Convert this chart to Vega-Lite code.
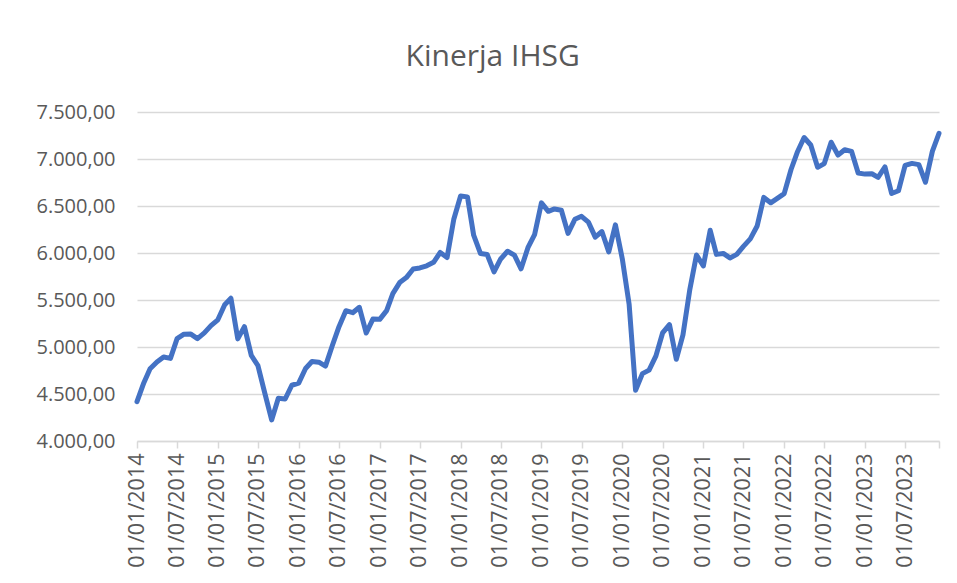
{
  "$schema": "https://vega.github.io/schema/vega-lite/v6.json",
  "autosize": {"type": "none"},
  "padding": {"left": 137, "top": 112, "right": 18, "bottom": 142},
  "width": 802,
  "height": 329,
  "background": "white",
  "config": {
    "locale": {"number": {"decimal": ",", "thousands": ".", "grouping": [3], "currency": ["Rp", ""]}},
    "view": {"stroke": null},
    "font": "Open Sans"
  },
  "title": {
    "text": "Kinerja IHSG",
    "anchor": "middle",
    "frame": "bounds",
    "fontSize": 30,
    "font": "Open Sans",
    "fontWeight": "normal",
    "color": "#595959",
    "offset": 30
  },
  "data": {
    "values": [
      {"date": "2014-01-01", "ihsg": 4418.76}, {"date": "2014-02-01", "ihsg": 4620.22}, {"date": "2014-03-01", "ihsg": 4768.28}, {"date": "2014-04-01", "ihsg": 4840.15}, {"date": "2014-05-01", "ihsg": 4893.91}, {"date": "2014-06-01", "ihsg": 4878.58}, {"date": "2014-07-01", "ihsg": 5088.80}, {"date": "2014-08-01", "ihsg": 5136.86}, {"date": "2014-09-01", "ihsg": 5137.58}, {"date": "2014-10-01", "ihsg": 5089.55}, {"date": "2014-11-01", "ihsg": 5149.89}, {"date": "2014-12-01", "ihsg": 5226.95},
      {"date": "2015-01-01", "ihsg": 5289.40}, {"date": "2015-02-01", "ihsg": 5450.29}, {"date": "2015-03-01", "ihsg": 5518.67}, {"date": "2015-04-01", "ihsg": 5086.42}, {"date": "2015-05-01", "ihsg": 5216.38}, {"date": "2015-06-01", "ihsg": 4910.66}, {"date": "2015-07-01", "ihsg": 4802.53}, {"date": "2015-08-01", "ihsg": 4509.61}, {"date": "2015-09-01", "ihsg": 4223.91}, {"date": "2015-10-01", "ihsg": 4455.18}, {"date": "2015-11-01", "ihsg": 4446.46}, {"date": "2015-12-01", "ihsg": 4593.01},
      {"date": "2016-01-01", "ihsg": 4615.16}, {"date": "2016-02-01", "ihsg": 4770.96}, {"date": "2016-03-01", "ihsg": 4845.37}, {"date": "2016-04-01", "ihsg": 4838.58}, {"date": "2016-05-01", "ihsg": 4796.87}, {"date": "2016-06-01", "ihsg": 5016.65}, {"date": "2016-07-01", "ihsg": 5215.99}, {"date": "2016-08-01", "ihsg": 5386.08}, {"date": "2016-09-01", "ihsg": 5364.80}, {"date": "2016-10-01", "ihsg": 5422.54}, {"date": "2016-11-01", "ihsg": 5148.91}, {"date": "2016-12-01", "ihsg": 5296.71},
      {"date": "2017-01-01", "ihsg": 5294.10}, {"date": "2017-02-01", "ihsg": 5386.69}, {"date": "2017-03-01", "ihsg": 5568.11}, {"date": "2017-04-01", "ihsg": 5685.30}, {"date": "2017-05-01", "ihsg": 5738.16}, {"date": "2017-06-01", "ihsg": 5829.71}, {"date": "2017-07-01", "ihsg": 5840.94}, {"date": "2017-08-01", "ihsg": 5864.06}, {"date": "2017-09-01", "ihsg": 5900.85}, {"date": "2017-10-01", "ihsg": 6005.78}, {"date": "2017-11-01", "ihsg": 5952.14}, {"date": "2017-12-01", "ihsg": 6355.65},
      {"date": "2018-01-01", "ihsg": 6605.63}, {"date": "2018-02-01", "ihsg": 6597.22}, {"date": "2018-03-01", "ihsg": 6188.99}, {"date": "2018-04-01", "ihsg": 5994.60}, {"date": "2018-05-01", "ihsg": 5983.59}, {"date": "2018-06-01", "ihsg": 5799.24}, {"date": "2018-07-01", "ihsg": 5936.44}, {"date": "2018-08-01", "ihsg": 6018.46}, {"date": "2018-09-01", "ihsg": 5976.55}, {"date": "2018-10-01", "ihsg": 5831.65}, {"date": "2018-11-01", "ihsg": 6056.12}, {"date": "2018-12-01", "ihsg": 6194.50},
      {"date": "2019-01-01", "ihsg": 6532.97}, {"date": "2019-02-01", "ihsg": 6443.35}, {"date": "2019-03-01", "ihsg": 6468.76}, {"date": "2019-04-01", "ihsg": 6455.35}, {"date": "2019-05-01", "ihsg": 6209.12}, {"date": "2019-06-01", "ihsg": 6358.63}, {"date": "2019-07-01", "ihsg": 6390.51}, {"date": "2019-08-01", "ihsg": 6328.47}, {"date": "2019-09-01", "ihsg": 6169.10}, {"date": "2019-10-01", "ihsg": 6228.32}, {"date": "2019-11-01", "ihsg": 6011.83}, {"date": "2019-12-01", "ihsg": 6299.54},
      {"date": "2020-01-01", "ihsg": 5940.05}, {"date": "2020-02-01", "ihsg": 5452.70}, {"date": "2020-03-01", "ihsg": 4538.93}, {"date": "2020-04-01", "ihsg": 4716.40}, {"date": "2020-05-01", "ihsg": 4753.61}, {"date": "2020-06-01", "ihsg": 4905.39}, {"date": "2020-07-01", "ihsg": 5149.63}, {"date": "2020-08-01", "ihsg": 5238.49}, {"date": "2020-09-01", "ihsg": 4870.04}, {"date": "2020-10-01", "ihsg": 5128.23}, {"date": "2020-11-01", "ihsg": 5612.42}, {"date": "2020-12-01", "ihsg": 5979.07},
      {"date": "2021-01-01", "ihsg": 5862.35}, {"date": "2021-02-01", "ihsg": 6241.80}, {"date": "2021-03-01", "ihsg": 5985.52}, {"date": "2021-04-01", "ihsg": 5995.62}, {"date": "2021-05-01", "ihsg": 5947.46}, {"date": "2021-06-01", "ihsg": 5985.49}, {"date": "2021-07-01", "ihsg": 6070.04}, {"date": "2021-08-01", "ihsg": 6150.30}, {"date": "2021-09-01", "ihsg": 6286.94}, {"date": "2021-10-01", "ihsg": 6591.35}, {"date": "2021-11-01", "ihsg": 6533.93}, {"date": "2021-12-01", "ihsg": 6581.48},
      {"date": "2022-01-01", "ihsg": 6631.15}, {"date": "2022-02-01", "ihsg": 6888.17}, {"date": "2022-03-01", "ihsg": 7071.44}, {"date": "2022-04-01", "ihsg": 7228.91}, {"date": "2022-05-01", "ihsg": 7148.97}, {"date": "2022-06-01", "ihsg": 6911.58}, {"date": "2022-07-01", "ihsg": 6951.12}, {"date": "2022-08-01", "ihsg": 7178.59}, {"date": "2022-09-01", "ihsg": 7040.80}, {"date": "2022-10-01", "ihsg": 7098.89}, {"date": "2022-11-01", "ihsg": 7081.31}, {"date": "2022-12-01", "ihsg": 6850.62},
      {"date": "2023-01-01", "ihsg": 6839.34}, {"date": "2023-02-01", "ihsg": 6843.24}, {"date": "2023-03-01", "ihsg": 6805.28}, {"date": "2023-04-01", "ihsg": 6915.72}, {"date": "2023-05-01", "ihsg": 6633.26}, {"date": "2023-06-01", "ihsg": 6661.88}, {"date": "2023-07-01", "ihsg": 6931.36}, {"date": "2023-08-01", "ihsg": 6953.26}, {"date": "2023-09-01", "ihsg": 6939.89}, {"date": "2023-10-01", "ihsg": 6752.21}, {"date": "2023-11-01", "ihsg": 7080.74}, {"date": "2023-12-01", "ihsg": 7272.80}
    ],
    "format": {"parse": {"date": "date:'%Y-%m-%d'"}}
  },
  "mark": {"type": "line", "color": "#4472C4", "strokeWidth": 5, "strokeCap": "round", "strokeJoin": "round"},
  "encoding": {
    "x": {
      "field": "date",
      "type": "temporal",
      "title": null,
      "scale": {"domain": [{"year": 2014, "month": 1, "date": 1}, {"year": 2023, "month": 12, "date": 1}], "nice": false},
      "axis": {
        "values": [
          {"year": 2014, "month": 1, "date": 1}, {"year": 2014, "month": 7, "date": 1},
          {"year": 2015, "month": 1, "date": 1}, {"year": 2015, "month": 7, "date": 1},
          {"year": 2016, "month": 1, "date": 1}, {"year": 2016, "month": 7, "date": 1},
          {"year": 2017, "month": 1, "date": 1}, {"year": 2017, "month": 7, "date": 1},
          {"year": 2018, "month": 1, "date": 1}, {"year": 2018, "month": 7, "date": 1},
          {"year": 2019, "month": 1, "date": 1}, {"year": 2019, "month": 7, "date": 1},
          {"year": 2020, "month": 1, "date": 1}, {"year": 2020, "month": 7, "date": 1},
          {"year": 2021, "month": 1, "date": 1}, {"year": 2021, "month": 7, "date": 1},
          {"year": 2022, "month": 1, "date": 1}, {"year": 2022, "month": 7, "date": 1},
          {"year": 2023, "month": 1, "date": 1}, {"year": 2023, "month": 7, "date": 1},
          {"year": 2023, "month": 12, "date": 1}
        ],
        "format": "%d/%m/%Y",
        "labelExpr": "month(datum.value) == 11 ? '' : datum.label",
        "labelAngle": -90,
        "labelFontSize": 21.5,
        "labelFont": "Open Sans",
        "labelColor": "#595959",
        "labelPadding": 5,
        "labelOverlap": false,
        "labelFlush": false,
        "grid": false,
        "domainColor": "#d9d9d9",
        "domainWidth": 1.5,
        "tickColor": "#d9d9d9",
        "tickWidth": 1.5,
        "tickSize": 7
      }
    },
    "y": {
      "field": "ihsg",
      "type": "quantitative",
      "title": null,
      "scale": {"domain": [4000, 7500], "nice": false, "zero": false},
      "axis": {
        "values": [4000, 4500, 5000, 5500, 6000, 6500, 7000, 7500],
        "format": ",.2f",
        "labelFontSize": 20,
        "labelFont": "Open Sans",
        "labelColor": "#595959",
        "labelPadding": 22,
        "domain": false,
        "ticks": false,
        "gridColor": "#d9d9d9",
        "gridWidth": 1.5
      }
    }
  }
}
